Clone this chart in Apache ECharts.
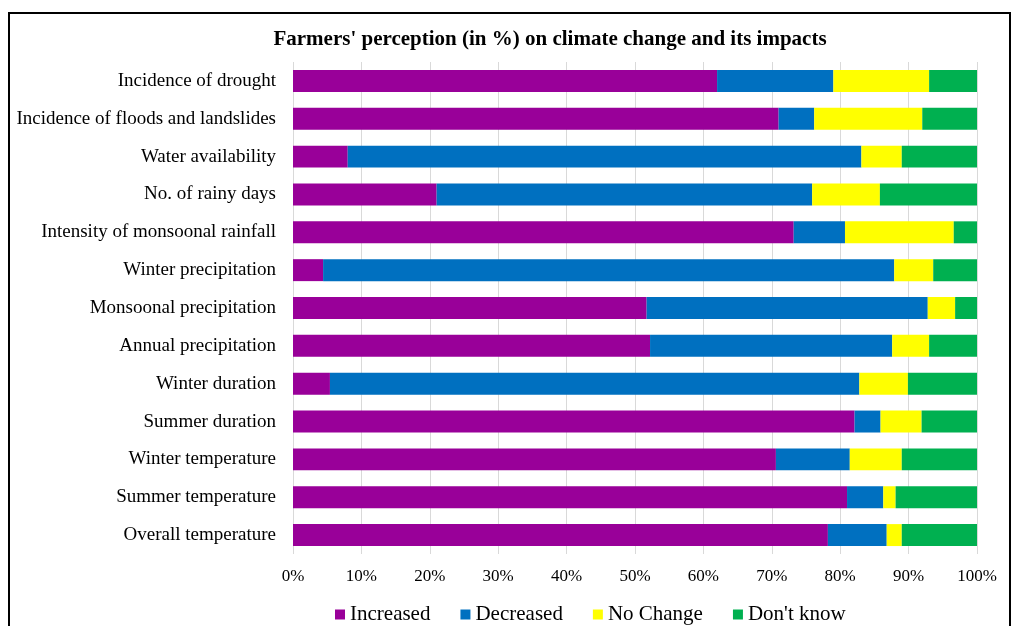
<!DOCTYPE html>
<html lang="en">

<head>
    <meta charset="UTF-8">
    <title>Farmers' perception</title>
    <script src="https://cdn.jsdelivr.net/npm/echarts@6/dist/echarts.min.js"></script>
    <style>
        html, body { margin: 0; padding: 0; background: #fff; }
        #main { width: 1014px; height: 626px; }
    </style>
</head>

<body>
    <div id="main"></div>
    <script type="text/javascript">
        // categories, top to bottom
        var categories = [
            'Incidence of drought',
            'Incidence of floods and landslides',
            'Water availability',
            'No. of rainy days',
            'Intensity of monsoonal rainfall',
            'Winter precipitation',
            'Monsoonal precipitation',
            'Annual precipitation',
            'Winter duration',
            'Summer duration',
            'Winter temperature',
            'Summer temperature',
            'Overall temperature'
        ];

        // percentages
        var increased = [62, 71, 8, 21, 73.2, 4.4, 51.7, 52.2, 5.4, 82.1, 70.6, 81, 78.2];
        var decreased = [17, 5.2, 75.1, 54.9, 7.5, 83.5, 41.1, 35.4, 77.4, 3.8, 10.8, 5.3, 8.6];
        var noChange = [14, 15.8, 5.9, 9.9, 15.9, 5.7, 4, 5.4, 7.1, 6, 7.6, 1.8, 2.2];
        var dontKnow = [7, 8, 11, 14.2, 3.4, 6.4, 3.2, 7, 10.1, 8.1, 11, 11.9, 11];

        var seriesNames = ['Increased', 'Decreased', 'No Change', "Don't know"];
        var colors = ['#990099', '#0070C0', '#FFFF00', '#00B050'];
        var xTicks = [0, 10, 20, 30, 40, 50, 60, 70, 80, 90, 100];

        var serif = '"Liberation Serif", "Times New Roman", serif';

        function makeSeries(name, data) {
            return {
                name: name,
                type: 'bar',
                stack: 'total',
                barCategoryGap: '42%',
                animation: false,
                data: data
            };
        }

        var option = {
            color: colors,
            textStyle: { fontFamily: serif, color: '#000' },
            title: {
                text: "Farmers' perception (in %) on climate change and its impacts",
                left: 545,
                textAlign: 'center',
                top: 24,
                textStyle: { fontFamily: serif, fontSize: 21, fontWeight: 'bold', color: '#000' }
            },
            graphic: [{
                type: 'rect',
                shape: { x: 9, y: 13, width: 1001, height: 700 },
                style: { fill: 'none', stroke: '#000', lineWidth: 2 },
                silent: true
            }],
            legend: {
                data: seriesNames,
                left: 330,
                top: 599,
                icon: 'rect',
                itemWidth: 10,
                itemHeight: 10,
                itemGap: 30,
                textStyle: { fontFamily: serif, fontSize: 21, color: '#000' }
            },
            grid: {
                left: 293,
                right: 37,
                top: 62,
                height: 492,
                containLabel: false
            },
            xAxis: {
                type: 'value',
                min: 0,
                max: 100,
                interval: 10,
                axisLine: { show: false },
                axisTick: { show: false },
                splitLine: { show: true, lineStyle: { color: '#d9d9d9', width: 1 } },
                axisLabel: {
                    margin: 14,
                    fontFamily: serif,
                    fontSize: 17,
                    color: '#000',
                    formatter: function (v) {
                        return xTicks.indexOf(v) >= 0 ? v + '%' : '';
                    }
                }
            },
            yAxis: {
                type: 'category',
                inverse: true,
                data: categories,
                axisLine: { show: false },
                axisTick: { show: false },
                axisLabel: {
                    margin: 17,
                    fontFamily: serif,
                    fontSize: 19,
                    color: '#000'
                }
            },
            series: [
                makeSeries(seriesNames[0], increased),
                makeSeries(seriesNames[1], decreased),
                makeSeries(seriesNames[2], noChange),
                makeSeries(seriesNames[3], dontKnow)
            ]
        };

        var myChart = echarts.init(document.getElementById('main'));
        myChart.setOption(option);
    </script>
</body>

</html>
